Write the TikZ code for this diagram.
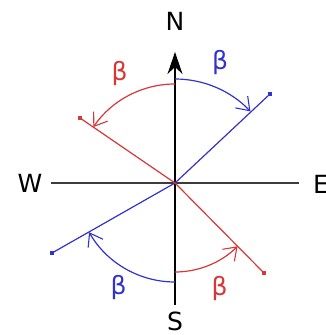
\documentclass[tikz,border=0pt]{standalone}
\usepackage{fontspec}
\setmainfont{DejaVu Sans}
\usetikzlibrary{arrows.meta}
\definecolor{cblue}{RGB}{50,50,205}
\definecolor{cred}{RGB}{215,55,55}
\definecolor{axisgray}{RGB}{60,60,60}
\begin{document}
\begin{tikzpicture}[x=1pt,y=1pt,
  lbl/.style={inner sep=0pt,font=\fontsize{25}{29}\selectfont},
  axis/.style={line width=1.4pt},
  ray/.style={line width=1.2pt},
  barb/.style={-{Straight Barb[length=12pt,width=17pt,line width=1.1pt]}},
  enddot/.style={fill,inner sep=0pt,minimum size=3.5pt}]
\useasboundingbox (0,0) rectangle (326,335);
\coordinate (C) at (175,152);
% axes
\coordinate (Ntip) at (175,283);
\coordinate (Sbot) at (175,30);
\coordinate (Wend) at (51,152);
\coordinate (Eend) at (299,152);
\draw[axis,axisgray] (Wend) -- (Eend);
\draw[axis,black,-{Stealth[length=22pt,width=15pt,inset=7pt]}] (Sbot) -- (Ntip);
% labels
\node[lbl] (N) at (175,314) {N};
\node[lbl] (S) at (175,13.5) {S};
\node[lbl] (W) at (30,152) {W};
\node[lbl] (E) at (321,151) {E};
% rays
\node[enddot,cblue] (b1) at (270,241) {};
\node[enddot,cblue] (b2) at (52,82) {};
\node[enddot,cred] (r1) at (80,217) {};
\node[enddot,cred] (r2) at (264,62) {};
\draw[ray,cblue] (b2.center) -- (C) -- (b1.center);
\draw[ray,cred] (r1.center) -- (C) -- (r2.center);
% arcs
\draw[ray,cblue,barb] ([shift={(90:104)}]C) arc[start angle=90,end angle=43.5,radius=104];
\draw[ray,cred,barb] ([shift={(90:99)}]C) arc[start angle=90,end angle=145.6,radius=99];
\draw[ray,cblue,barb] ([shift={(270:99)}]C) arc[start angle=270,end angle=209.8,radius=99];
\draw[ray,cred,barb] ([shift={(270:89)}]C) arc[start angle=270,end angle=314.7,radius=89];
% beta labels
\node[lbl,cred] (br1) at (119.5,261) {β};
\node[lbl,cblue] (bb1) at (220,272) {β};
\node[lbl,cblue] (bb2) at (118.5,47.5) {β};
\node[lbl,cred] (br2) at (219.5,46) {β};
\end{tikzpicture}
\end{document}
